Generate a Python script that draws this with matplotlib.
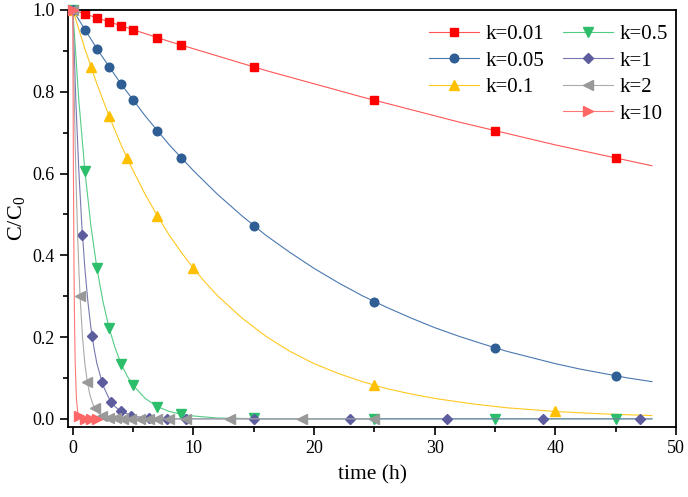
import matplotlib
matplotlib.use("Agg")
import matplotlib.pyplot as plt
from matplotlib.lines import Line2D

plt.rcParams['font.family'] = ['Liberation Serif', 'DejaVu Serif']
plt.rcParams['mathtext.fontset'] = 'custom'
plt.rcParams['mathtext.rm'] = 'Liberation Serif'
plt.rcParams['mathtext.it'] = 'Liberation Serif:italic'

# ---- data ----
labels = ["k=0.01", "k=0.05", "k=0.1", "k=0.5", "k=1", "k=2", "k=10"]

# measured points (markers)
t_001 = [0, 1, 2, 3, 4, 5, 7, 9, 15, 25, 35, 45]
c_001 = [1.0, 0.990, 0.980, 0.970, 0.961, 0.951, 0.932, 0.914, 0.861, 0.779, 0.705, 0.638]
t_005 = [0, 1, 2, 3, 4, 5, 7, 9, 15, 25, 35, 45]
c_005 = [1.0, 0.951, 0.905, 0.861, 0.819, 0.779, 0.705, 0.638, 0.472, 0.287, 0.174, 0.105]
t_01 = [0, 1.5, 3, 4.5, 7, 10, 25, 40]
c_01 = [1.0, 0.861, 0.741, 0.638, 0.497, 0.368, 0.082, 0.018]
t_05 = [0, 1, 2, 3, 4, 5, 7, 9, 15, 25, 35, 45]
c_05 = [1.0, 0.607, 0.368, 0.223, 0.135, 0.082, 0.030, 0.011, 0.001, 0.0, 0.0, 0.0]
t_1 = [0, 0.8, 1.6, 2.4, 3.2, 4.0, 4.8, 6.3, 7.8, 9.4, 15, 23, 31, 39, 47]
c_1 = [1.0, 0.449, 0.202, 0.091, 0.041, 0.018, 0.008, 0.002, 0.0, 0.0, 0.0, 0.0, 0.0, 0.0, 0.0]
t_2 = [0, 0.6, 1.2, 1.8, 2.4, 3.0, 3.6, 4.2, 4.8, 5.6, 6.3, 7, 8, 9.4, 13, 19, 25]
c_2 = [1.0, 0.301, 0.091, 0.027, 0.008, 0.002, 0.001, 0.0, 0.0, 0.0, 0.0, 0.0, 0.0, 0.0, 0.0, 0.0, 0.0]
t_10 = [0, 0.5, 1.0, 1.5, 2.0]
c_10 = [1.0, 0.007, 0.0, 0.0, 0.0]

# fitted curves
lt_001 = [0, 8, 16, 24, 32, 40, 48]
lc_001 = [1.0, 0.923, 0.852, 0.787, 0.726, 0.670, 0.619]
lt_005 = [0, 2, 4, 6, 8, 10, 12, 14, 16, 18, 20, 22, 24, 26, 28, 30, 32, 34, 36, 38, 40, 42, 44, 46, 48]
lc_005 = [1.0, 0.905, 0.819, 0.741, 0.670, 0.607, 0.549, 0.497, 0.449, 0.407, 0.368, 0.333, 0.301,
          0.273, 0.247, 0.223, 0.202, 0.183, 0.165, 0.150, 0.135, 0.122, 0.111, 0.100, 0.091]
lt_01 = [0, 1, 2, 3, 4, 5, 6, 7, 8, 9, 10, 11, 12, 14, 16, 18, 20, 22, 24, 26, 28, 30, 33, 36, 40, 44, 48]
lc_01 = [1.0, 0.905, 0.819, 0.741, 0.670, 0.607, 0.549, 0.497, 0.449, 0.407, 0.368, 0.333, 0.301,
         0.247, 0.202, 0.165, 0.135, 0.111, 0.091, 0.074, 0.061, 0.050, 0.037, 0.027, 0.018, 0.012, 0.008]
lt_05 = [0, 0.5, 1, 1.5, 2, 2.5, 3, 3.5, 4, 4.5, 5, 6, 7, 8, 9, 10, 12, 14, 16, 20, 48]
lc_05 = [1.0, 0.779, 0.607, 0.472, 0.368, 0.287, 0.223, 0.174, 0.135, 0.105, 0.082, 0.050, 0.030,
         0.018, 0.011, 0.007, 0.002, 0.001, 0.0, 0.0, 0.0]
lt_1 = [0, 0.25, 0.5, 0.75, 1, 1.25, 1.5, 1.75, 2, 2.5, 3, 3.5, 4, 5, 6, 7, 8, 10, 48]
lc_1 = [1.0, 0.779, 0.607, 0.472, 0.368, 0.287, 0.223, 0.174, 0.135, 0.082, 0.050, 0.030, 0.018,
        0.007, 0.002, 0.001, 0.0, 0.0, 0.0]
lt_2 = [0, 0.1, 0.2, 0.3, 0.4, 0.5, 0.6, 0.8, 1, 1.2, 1.4, 1.6, 1.8, 2.2, 2.6, 3, 4, 5, 25]
lc_2 = [1.0, 0.819, 0.670, 0.549, 0.449, 0.368, 0.301, 0.202, 0.135, 0.091, 0.061, 0.041, 0.027,
        0.012, 0.006, 0.002, 0.0, 0.0, 0.0]
lt_10 = [0, 0.05, 0.1, 0.15, 0.2, 0.3, 0.4, 0.5, 0.7, 1, 2]
lc_10 = [1.0, 0.607, 0.368, 0.223, 0.135, 0.050, 0.018, 0.007, 0.001, 0.0, 0.0]

# ---- style ----
mk_colors = ['#FF0000', '#2E5E94', '#FFC000', '#2DBE6C', '#5C5C9E', '#999999', '#FF6666']
ln_colors = ['#FF5555', '#4A78B0', '#FFC820', '#55CC85', '#7878B0', '#AAAAAA', '#FF7777']
markers = ['s', 'o', '^', 'v', 'D', '<', '>']
msizes = [5.5, 6.2, 6.8, 6.8, 5.2, 6.8, 6.8]

pts = [(t_001, c_001), (t_005, c_005), (t_01, c_01), (t_05, c_05),
       (t_1, c_1), (t_2, c_2), (t_10, c_10)]
curves = [(lt_001, lc_001), (lt_005, lc_005), (lt_01, lc_01), (lt_05, lc_05),
          (lt_1, lc_1), (lt_2, lc_2), (lt_10, lc_10)]

fig = plt.figure(figsize=(6.88, 4.97), dpi=100)
ax = fig.add_axes([0.0988, 0.1408, 0.8838, 0.8391])

handles = []
for i in range(len(labels)):
    ax.plot(curves[i][0], curves[i][1], '-', color=ln_colors[i], lw=0.8, zorder=2 + i)
    ax.plot(pts[i][0], pts[i][1], ls='none', marker=markers[i], ms=msizes[i],
            color=mk_colors[i], mec=mk_colors[i], zorder=2 + i, clip_on=False)
    h = Line2D([], [], color=ln_colors[i], lw=0.8, marker=markers[i], ms=msizes[i],
               mfc=mk_colors[i], mec=mk_colors[i], label=labels[i])
    handles.append(h)

# blank slot so the first legend column holds three entries
blank = Line2D([], [], alpha=0, label=' ')
handles.insert(3, blank)

leg = ax.legend(handles=handles, ncol=2, loc='upper right', frameon=False,
                fontsize=15, handlelength=2.4, handletextpad=0.3, columnspacing=0.9,
                labelspacing=0.33, borderaxespad=0.0, bbox_to_anchor=(1.0, 0.985))

ax.set_xlim(-0.4, 50)
ax.set_ylim(-0.02, 1.0)
ax.set_xticks([0, 10, 20, 30, 40, 50])
ax.set_xticks([5, 15, 25, 35, 45], minor=True)
ax.set_yticks([0.0, 0.2, 0.4, 0.6, 0.8, 1.0])
ax.set_yticks([0.1, 0.3, 0.5, 0.7, 0.9], minor=True)
ax.set_yticklabels(['0.0', '0.2', '0.4', '0.6', '0.8', '1.0'])
ax.tick_params(axis='both', which='major', direction='out', length=6, width=1.2, labelsize=13)
ax.tick_params(axis='both', which='minor', direction='out', length=3.5, width=1.2)

for s in ax.spines.values():
    s.set_linewidth(1.3)

ax.set_xlabel('time (h)', fontsize=15.5, labelpad=6)
ax.set_ylabel('C/C$_\\mathrm{0}$', fontsize=16, labelpad=4)

fig.savefig('out.png', dpi=100)
